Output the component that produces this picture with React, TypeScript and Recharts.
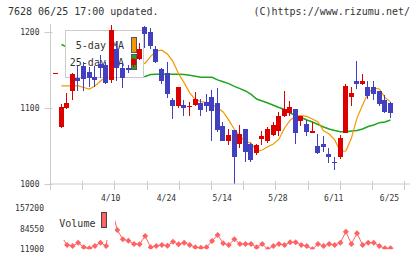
import { ComposedChart, Bar, Line, Scatter, XAxis, YAxis } from "recharts";

// daily candles, oldest first (index 0 is the last session before the window)
const opens = [
  1146, 1075, 1100, 1123, 1140, 1155, 1148, 1141, 1158, 1156,
  1137, 1178, 1152, 1152, 1156, 1164, 1207, 1200, 1178, 1151,
  1146, 1110, 1103, 1104, 1101, 1104, 1106, 1108, 1115, 1107,
  1076, 1057, 1071, 1053, 1072, 1053, 1041, 1059, 1056, 1064,
  1070, 1089, 1093, 1099, 1083, 1079, 1067, 1050, 1053, 1040,
  1029, 1035, 1067, 1114, 1135, 1131, 1127, 1127, 1122, 1111,
  1107,
];
const highs = [
  1146.6, 1105, 1120, 1146, 1157, 1160, 1154, 1155, 1170, 1160,
  1209, 1185, 1160, 1156, 1166, 1185, 1208, 1205, 1181, 1152,
  1161, 1113, 1127, 1110, 1108, 1121, 1112, 1118, 1124, 1126,
  1082, 1073, 1071, 1078, 1072, 1054, 1053, 1070, 1075, 1081,
  1095, 1122, 1109, 1099, 1090, 1084, 1081, 1066, 1063, 1047,
  1036, 1064, 1132, 1127, 1162, 1145, 1136, 1136, 1122, 1117,
  1108,
];
const lows = [
  1145.4, 1074, 1099, 1110, 1123, 1122, 1128, 1127, 1139, 1132,
  1133, 1135, 1126, 1146, 1154, 1163, 1179, 1178, 1159, 1132,
  1113, 1086, 1100, 1089, 1090, 1103, 1090, 1095, 1057, 1068,
  1056, 1051, 1000, 1047, 1029, 1029, 1038, 1051, 1054, 1063,
  1063, 1088, 1089, 1052, 1076, 1063, 1067, 1039, 1042, 1027,
  1018, 1033, 1067, 1102, 1125, 1130, 1112, 1110, 1102, 1093,
  1087,
];
const closes = [
  1146, 1101, 1107, 1145, 1135, 1138, 1140, 1137, 1152, 1133,
  1203, 1152, 1140, 1150, 1165, 1178, 1197, 1181, 1161, 1135,
  1119, 1103, 1127, 1100, 1103, 1112, 1097, 1102, 1096, 1071,
  1057, 1064, 1036, 1066, 1042, 1031, 1051, 1063, 1073, 1078,
  1089, 1099, 1101, 1067, 1090, 1069, 1070, 1041, 1049, 1035,
  1027, 1060, 1129, 1120, 1131, 1136, 1116, 1119, 1105, 1095,
  1094,
];
const ma5 = [
  null, 1129, 1129, 1129, 1129, 1127, 1125, 1129, 1135.5, 1141,
  1146, 1150, 1152, 1152, 1154, 1156, 1159, 1168, 1175, 1176,
  1171, 1161, 1145, 1133, 1120, 1111, 1108.5, 1107, 1104.6, 1100,
  1094.7, 1084, 1072, 1063, 1055.7, 1054, 1043, 1044.7, 1049, 1052.6,
  1059, 1073.7, 1084, 1089.5, 1090, 1089, 1085.5, 1081.6, 1070, 1065.8,
  1058, 1042.8, 1043.4, 1060.5, 1087, 1104, 1120, 1126, 1125, 1114,
  1108,
];
const ma25 = [
  null, 1183.5, 1180, 1177, 1174.5, 1171, 1168.5, 1165, 1162, 1159.5,
  1156, 1153, 1150.5, 1147, 1144, 1141, 1141.5, 1144, 1144.3, 1144.3,
  1144.3, 1144.3, 1144.3, 1144, 1143, 1141.7, 1140.4, 1140.4, 1140.4, 1137,
  1134.6, 1132, 1128.5, 1125.4, 1122.4, 1117.8, 1111.8, 1109.2, 1106.6, 1103.6,
  1100.7, 1098, 1093.4, 1090, 1087.5, 1084.2, 1081.6, 1078.3, 1075, 1072.4,
  1070.4, 1068.8, 1068.8, 1069.7, 1070.4, 1072.4, 1075.7, 1077.6, 1080.7, 1081.6,
  1084.2,
];
const volumes = [
  null, 57300, 27100, 23600, 35300, 19000, 15400, 23600, 35300, 23600,
  157200, 80300, 47300, 42400, 30700, 29600, 59000, 19000, 23600, 27100,
  24700, 38800, 29600, 35300, 27100, 19000, 17000, 19000, 41300, 62600,
  33200, 27100, 47300, 30700, 30700, 30700, 19000, 30700, 11900, 23600,
  30700, 27100, 36700, 36700, 27100, 23600, 12500, 30700, 23600, 30700,
  27100, 35300, 74300, 30700, 68600, 27100, 35300, 35300, 23600, 15400,
  15400,
];

const dateTickIndex = [10, 20, 30, 40, 50, 60];
const dateTickLabels = ["4/10", "4/24", "5/14", "5/28", "6/11", "6/25"];
const priceTicks = [1000, 1100, 1200];
const volumeTicks = [11900, 84550, 157200];

const rows = closes.map((close, i) => ({
  i,
  open: opens[i],
  high: highs[i],
  low: lows[i],
  close,
  ma5: ma5[i],
  ma25: ma25[i],
  volume: volumes[i],
}));

const FONT = "'DejaVu Sans Mono', monospace";
const RED = "#dd0000";
const BLUE = "#4040c0";
const ORANGE = "#f39800";
const GREEN = "#1fa51f";
const VOL = "#ff6262";
const AXIS = "#cccccc";
const TEXT = "#333333";

// x domain in session units; the frame ticks split it into equal steps
const X_MIN = -0.97;
const X_MAX = 63.5;
const GRID_STEP = 5.775;
const gridTicks = Array.from({ length: 12 }, (_, k) => X_MIN + k * GRID_STEP);
const xTicks = [...gridTicks, ...dateTickIndex];

function DateTick(props: any) {
  const { x, y, payload } = props;
  const pos = dateTickIndex.findIndex((d) => Math.abs(d - payload.value) < 1e-6);
  if (pos >= 0) {
    return (
      <text x={x - 1} y={y + 16.5} textAnchor="middle" fontSize={8} fontFamily={FONT} fill={TEXT}>
        {dateTickLabels[pos]}
      </text>
    );
  }
  const px = Math.floor(x) + 0.5;
  return <line x1={px} x2={px} y1={y - 3} y2={y + 6} stroke={AXIS} />;
}

function PriceTick(props: any) {
  const { x, y, payload } = props;
  const py = Math.round(y) + 0.5;
  return (
    <g>
      <line x1={x - 6} x2={x + 2} y1={py} y2={py} stroke={AXIS} />
      <text x={x - 11} y={y + 3} textAnchor="end" fontSize={8} fontFamily={FONT} fill={TEXT}>
        {payload.value}
      </text>
    </g>
  );
}

function VolumeTick(props: any) {
  const { x, y, payload } = props;
  return (
    <text x={x - 6.5} y={y + 3} textAnchor="end" fontSize={8} fontFamily={FONT} fill={TEXT}>
      {payload.value}
    </text>
  );
}

// range bar [low, high] -> wick plus open/close body
function Candle(props: any) {
  const { x, y, width, height, payload } = props;
  const { open, close, high, low } = payload;
  const top = Math.min(y, y + height);
  const h = Math.abs(height);
  const k = high > low ? h / (high - low) : 0;
  const py = (v: number) => top + (high - v) * k;
  const color = close >= open ? RED : BLUE;
  const bx = Math.round(x);
  const cx = bx + Math.floor(width / 2) + 0.5;
  const bodyTop = Math.round(py(Math.max(open, close)));
  const bodyBot = Math.round(py(Math.min(open, close)));
  return (
    <g>
      <line x1={cx} x2={cx} y1={Math.round(top)} y2={Math.round(top + h)} stroke={color} />
      <rect x={bx} y={bodyTop} width={width} height={Math.max(1, bodyBot - bodyTop)} fill={color} />
    </g>
  );
}

function Diamond(props: any) {
  const { cx, cy } = props;
  if (cy == null || Number.isNaN(cy) || props.payload?.volume == null) return <g />;
  const r = 3;
  return <polygon points={`${cx},${cy - r} ${cx + r},${cy} ${cx},${cy + r} ${cx - r},${cy}`} fill={VOL} />;
}

function MaLegend() {
  return (
    <g fontFamily={FONT} fontSize={10} fill={TEXT}>
      <rect x={65.5} y={30.5} width={78} height={47} fill="#ffffff" stroke={AXIS} />
      <text x={124} y={48.5} textAnchor="end">5-day MA</text>
      <rect x={131.5} y={37.5} width={5} height={15} fill={ORANGE} stroke="#555555" />
      <text x={124} y={65.5} textAnchor="end">25-day MA</text>
      <rect x={131.5} y={54.5} width={5} height={15} fill={GREEN} stroke="#555555" />
    </g>
  );
}

function VolumeLegend() {
  return (
    <g fontFamily={FONT} fontSize={10} fill={TEXT}>
      <rect x={55} y={3} width={60} height={37} fill="#ffffff" />
      <text x={59.3} y={26.5}>Volume</text>
      <rect x={101.5} y={12.5} width={5} height={15} fill={VOL} stroke="#444444" />
    </g>
  );
}

export default function App() {
  return (
    <div style={{ position: "absolute", left: 0, top: 0, width: 420, height: 259, background: "#fff" }}>
      <div style={{ position: "absolute", left: 8, top: 7, fontFamily: FONT, fontSize: 10, lineHeight: "10px", color: TEXT, whiteSpace: "pre" }}>
        7628 06/25 17:00 updated.
      </div>
      <div style={{ position: "absolute", right: 10, top: 7, fontFamily: FONT, fontSize: 10, lineHeight: "10px", color: TEXT, whiteSpace: "pre" }}>
        (C)https://www.rizumu.net/
      </div>

      <div style={{ position: "absolute", left: 0, top: 0 }}>
        <ComposedChart width={420} height={205} data={rows} margin={{ top: 24, right: 10, bottom: 0, left: 0.5 }}>
          <XAxis
            dataKey="i"
            type="number"
            domain={[X_MIN, X_MAX]}
            ticks={xTicks}
            interval={0}
            tick={(p: any) => <DateTick {...p} />}
            tickLine={false}
            tickSize={0}
            tickMargin={0}
            height={21}
            axisLine={{ stroke: AXIS }}
            allowDataOverflow
          />
          <YAxis
            domain={[1000, 1210.5]}
            ticks={priceTicks}
            interval={0}
            width={50}
            tick={(p: any) => <PriceTick {...p} />}
            tickLine={false}
            tickSize={0}
            tickMargin={0}
            axisLine={{ stroke: AXIS }}
            allowDataOverflow
          />
          <Line
            dataKey="ma25"
            type="linear"
            stroke={GREEN}
            strokeWidth={1.5}
            dot={false}
            activeDot={false}
            zIndex={-50}
            isAnimationActive={false}
          />
          <Line
            dataKey="ma5"
            type="linear"
            stroke={ORANGE}
            strokeWidth={1.2}
            dot={false}
            activeDot={false}
            zIndex={-50}
            isAnimationActive={false}
          />
          <MaLegend />
          <Bar dataKey={(d: any) => [d.low, d.high]} barSize={5} shape={(p: any) => <Candle {...p} />} isAnimationActive={false} />
        </ComposedChart>
      </div>

      <div style={{ position: "absolute", left: 0, top: 200 }}>
        <ComposedChart width={420} height={59} data={rows} margin={{ top: 8.3, right: 10, bottom: 9.7, left: 0.5 }}>
          <XAxis dataKey="i" type="number" domain={[X_MIN, X_MAX]} hide allowDataOverflow />
          <YAxis
            domain={[11900, 157200]}
            ticks={volumeTicks}
            interval={0}
            width={50}
            axisLine={false}
            tickLine={false}
            tickSize={0}
            tickMargin={0}
            tick={(p: any) => <VolumeTick {...p} />}
            allowDataOverflow
          />
          <Line
            dataKey="volume"
            type="linear"
            stroke={VOL}
            strokeWidth={1}
            dot={false}
            activeDot={false}
            zIndex={-50}
            isAnimationActive={false}
          />
          <Scatter dataKey="volume" shape={(p: any) => <Diamond {...p} />} zIndex={-40} isAnimationActive={false} />
          <VolumeLegend />
        </ComposedChart>
      </div>
    </div>
  );
}
